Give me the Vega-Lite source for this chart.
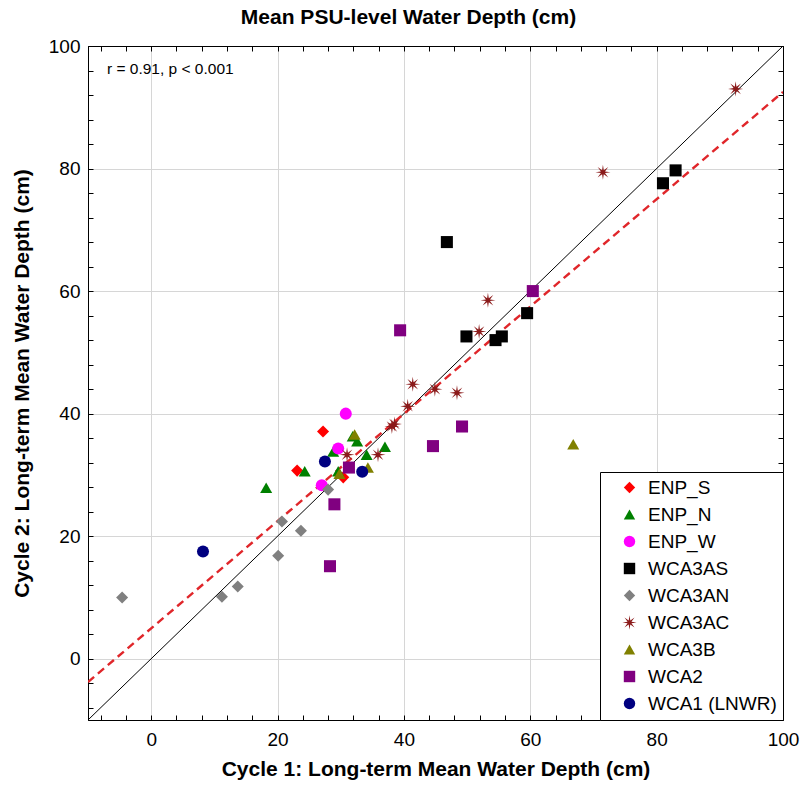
{
  "$schema": "https://vega.github.io/schema/vega-lite/v6.json",
  "autosize": "none",
  "width": 695,
  "height": 674,
  "padding": {"left": 88, "top": 46, "right": 17, "bottom": 66},
  "background": "white",
  "config": {
    "font": "Liberation Sans",
    "view": {"stroke": "black", "strokeWidth": 1}
  },
  "title": {
    "text": "Mean PSU-level Water Depth (cm)",
    "fontSize": 21,
    "fontWeight": "bold",
    "font": "Liberation Sans",
    "color": "black",
    "anchor": "middle",
    "offset": 9,
    "dx": -27
  },
  "resolve": {"axis": {"x": "independent", "y": "independent"}},
  "layer": [
    {
      "data": {"values": [
        {"x": -10, "y": -10},
        {"x": 100, "y": 100}
      ]},
      "mark": {"type": "line", "color": "black", "strokeWidth": 1, "clip": true},
      "encoding": {
        "x": {"field": "x", "type": "quantitative",
          "scale": {"domain": [-10, 100], "nice": false, "zero": false},
          "axis": {
            "orient": "bottom",
            "title": "Cycle 1: Long-term Mean Water Depth (cm)",
            "titleFontSize": 21, "titleFontWeight": "bold", "titleColor": "black", "titlePadding": 9,
            "values": [-8,-4,0,4,8,12,16,20,24,28,32,36,40,44,48,52,56,60,64,68,72,76,80,84,88,92,96,100],
            "labelExpr": "datum.value % 20 === 0 ? datum.label : ''",
            "labelFontSize": 19, "labelColor": "black", "labelPadding": 15, "labelFlush": false,
            "tickSize": -5, "tickColor": "black",
            "domainColor": "black",
            "grid": true, "gridColor": "#d6d6d6",
            "gridOpacity": {"condition": {"test": "datum.value % 20 === 0 && datum.value < 100", "value": 1}, "value": 0}
          }},
        "y": {"field": "y", "type": "quantitative",
          "scale": {"domain": [-10, 100], "nice": false, "zero": false},
          "axis": {
            "orient": "left",
            "title": "Cycle 2: Long-term Mean Water Depth (cm)",
            "titleFontSize": 21, "titleFontWeight": "bold", "titleColor": "black", "titlePadding": 16,
            "values": [-8,-4,0,4,8,12,16,20,24,28,32,36,40,44,48,52,56,60,64,68,72,76,80,84,88,92,96,100],
            "labelExpr": "datum.value % 20 === 0 ? datum.label : ''",
            "labelFontSize": 19, "labelColor": "black", "labelPadding": 13, "labelFlush": false,
            "tickSize": -5, "tickColor": "black",
            "domainColor": "black",
            "grid": true, "gridColor": "#d6d6d6",
            "gridOpacity": {"condition": {"test": "datum.value % 20 === 0 && datum.value < 100", "value": 1}, "value": 0}
          }}
      }
    },
    {
      "data": {"values": [
        {"x": -10, "y": -3.8},
        {"x": 100, "y": 92.5}
      ]},
      "mark": {"type": "line", "color": "#e0262a", "strokeWidth": 2.4, "strokeDash": [8, 5], "clip": true},
      "encoding": {
        "x": {"field": "x", "type": "quantitative", "axis": null},
        "y": {"field": "y", "type": "quantitative", "axis": null}
      }
    },
    {
      "data": {"values": [
        {"group": "ENP_S", "x": 27.2, "y": 37.1},
        {"group": "ENP_S", "x": 23.1, "y": 30.7},
        {"group": "ENP_S", "x": 30.4, "y": 29.6},
        {"group": "ENP_N", "x": 18.2, "y": 27.9},
        {"group": "ENP_N", "x": 24.3, "y": 30.6},
        {"group": "ENP_N", "x": 28.8, "y": 33.8},
        {"group": "ENP_N", "x": 31.9, "y": 36.3},
        {"group": "ENP_N", "x": 32.6, "y": 35.5},
        {"group": "ENP_N", "x": 34.1, "y": 33.3},
        {"group": "ENP_N", "x": 37.0, "y": 34.6},
        {"group": "ENP_N", "x": 29.6, "y": 30.6},
        {"group": "ENP_W", "x": 30.8, "y": 40.0},
        {"group": "ENP_W", "x": 29.6, "y": 34.3},
        {"group": "ENP_W", "x": 27.0, "y": 28.3},
        {"group": "WCA3AS", "x": 46.8, "y": 68.0},
        {"group": "WCA3AS", "x": 49.9, "y": 52.6},
        {"group": "WCA3AS", "x": 54.5, "y": 52.0},
        {"group": "WCA3AS", "x": 55.5, "y": 52.6},
        {"group": "WCA3AS", "x": 59.5, "y": 56.4},
        {"group": "WCA3AS", "x": 81.0, "y": 77.6},
        {"group": "WCA3AS", "x": 83.0, "y": 79.7},
        {"group": "WCA3AN", "x": -4.6, "y": 10.0},
        {"group": "WCA3AN", "x": 11.2, "y": 10.1},
        {"group": "WCA3AN", "x": 13.7, "y": 11.8},
        {"group": "WCA3AN", "x": 20.1, "y": 16.8},
        {"group": "WCA3AN", "x": 20.7, "y": 22.4},
        {"group": "WCA3AN", "x": 23.7, "y": 20.9},
        {"group": "WCA3AN", "x": 28.0, "y": 27.6},
        {"group": "WCA3AC", "x": 71.5, "y": 79.4},
        {"group": "WCA3AC", "x": 92.5, "y": 93.0},
        {"group": "WCA3AC", "x": 53.3, "y": 58.5},
        {"group": "WCA3AC", "x": 51.9, "y": 53.4},
        {"group": "WCA3AC", "x": 41.4, "y": 44.8},
        {"group": "WCA3AC", "x": 44.9, "y": 44.0},
        {"group": "WCA3AC", "x": 48.4, "y": 43.4},
        {"group": "WCA3AC", "x": 40.6, "y": 41.2},
        {"group": "WCA3AC", "x": 38.1, "y": 37.9},
        {"group": "WCA3AC", "x": 38.5, "y": 38.3},
        {"group": "WCA3AC", "x": 35.9, "y": 33.3},
        {"group": "WCA3AC", "x": 31.0, "y": 33.3},
        {"group": "WCA3B", "x": 66.8, "y": 35.0},
        {"group": "WCA3B", "x": 34.3, "y": 31.2},
        {"group": "WCA3B", "x": 32.2, "y": 36.6},
        {"group": "WCA3B", "x": 29.8, "y": 30.2},
        {"group": "WCA2", "x": 39.4, "y": 53.6},
        {"group": "WCA2", "x": 49.2, "y": 37.9},
        {"group": "WCA2", "x": 44.6, "y": 34.7},
        {"group": "WCA2", "x": 60.4, "y": 60.0},
        {"group": "WCA2", "x": 31.3, "y": 31.2},
        {"group": "WCA2", "x": 29.0, "y": 25.2},
        {"group": "WCA2", "x": 28.3, "y": 15.1},
        {"group": "WCA1 (LNWR)", "x": 8.2, "y": 17.5},
        {"group": "WCA1 (LNWR)", "x": 27.5, "y": 32.2},
        {"group": "WCA1 (LNWR)", "x": 33.4, "y": 30.5}
      ]},
      "mark": {"type": "point", "filled": true, "opacity": 1, "size": 145},
      "encoding": {
        "x": {"field": "x", "type": "quantitative",
          "axis": {
            "orient": "top", "title": null, "labels": false, "grid": false,
            "values": [-8,-4,0,4,8,12,16,20,24,28,32,36,40,44,48,52,56,60,64,68,72,76,80,84,88,92,96,100],
            "tickSize": -5, "tickColor": "black", "domainColor": "black"
          }},
        "y": {"field": "y", "type": "quantitative",
          "axis": {
            "orient": "right", "title": null, "labels": false, "grid": false,
            "values": [-8,-4,0,4,8,12,16,20,24,28,32,36,40,44,48,52,56,60,64,68,72,76,80,84,88,92,96,100],
            "tickSize": -5, "tickColor": "black", "domainColor": "black"
          }},
        "color": {"field": "group", "type": "nominal",
          "scale": {
            "domain": ["ENP_S", "ENP_N", "ENP_W", "WCA3AS", "WCA3AN", "WCA3AC", "WCA3B", "WCA2", "WCA1 (LNWR)"],
            "range": ["#ff0000", "#008000", "#ff00ff", "#000000", "#808080", "#8b1a1a", "#808000", "#800080", "#000080"]
          },
          "legend": {
            "orient": "bottom-right", "offset": 0, "title": null,
            "strokeColor": "black", "fillColor": "white",
            "padding": 6, "symbolOffset": 14, "labelOffset": 9,
            "labelFontSize": 19, "labelColor": "black", "labelFont": "Liberation Sans",
            "symbolSize": 130, "rowPadding": 7, "labelLimit": 300
          }},
        "shape": {"field": "group", "type": "nominal",
          "scale": {
            "domain": ["ENP_S", "ENP_N", "ENP_W", "WCA3AS", "WCA3AN", "WCA3AC", "WCA3B", "WCA2", "WCA1 (LNWR)"],
            "range": ["diamond", "triangle-up", "circle", "square", "diamond",
              "M0,-1.25L0.14,-0.34L0.88,-0.88L0.34,-0.14L1.25,0L0.34,0.14L0.88,0.88L0.14,0.34L0,1.25L-0.14,0.34L-0.88,0.88L-0.34,0.14L-1.25,0L-0.34,-0.14L-0.88,-0.88L-0.14,-0.34Z",
              "triangle-up", "square", "circle"]
          }}
      }
    },
    {
      "data": {"values": [{"x": -7.0, "y": 96.2, "label": "r = 0.91, p < 0.001"}]},
      "mark": {"type": "text", "align": "left", "baseline": "middle", "fontSize": 15.5, "font": "Liberation Sans", "color": "black"},
      "encoding": {
        "x": {"field": "x", "type": "quantitative", "axis": null},
        "y": {"field": "y", "type": "quantitative", "axis": null},
        "text": {"field": "label"}
      }
    }
  ]
}
